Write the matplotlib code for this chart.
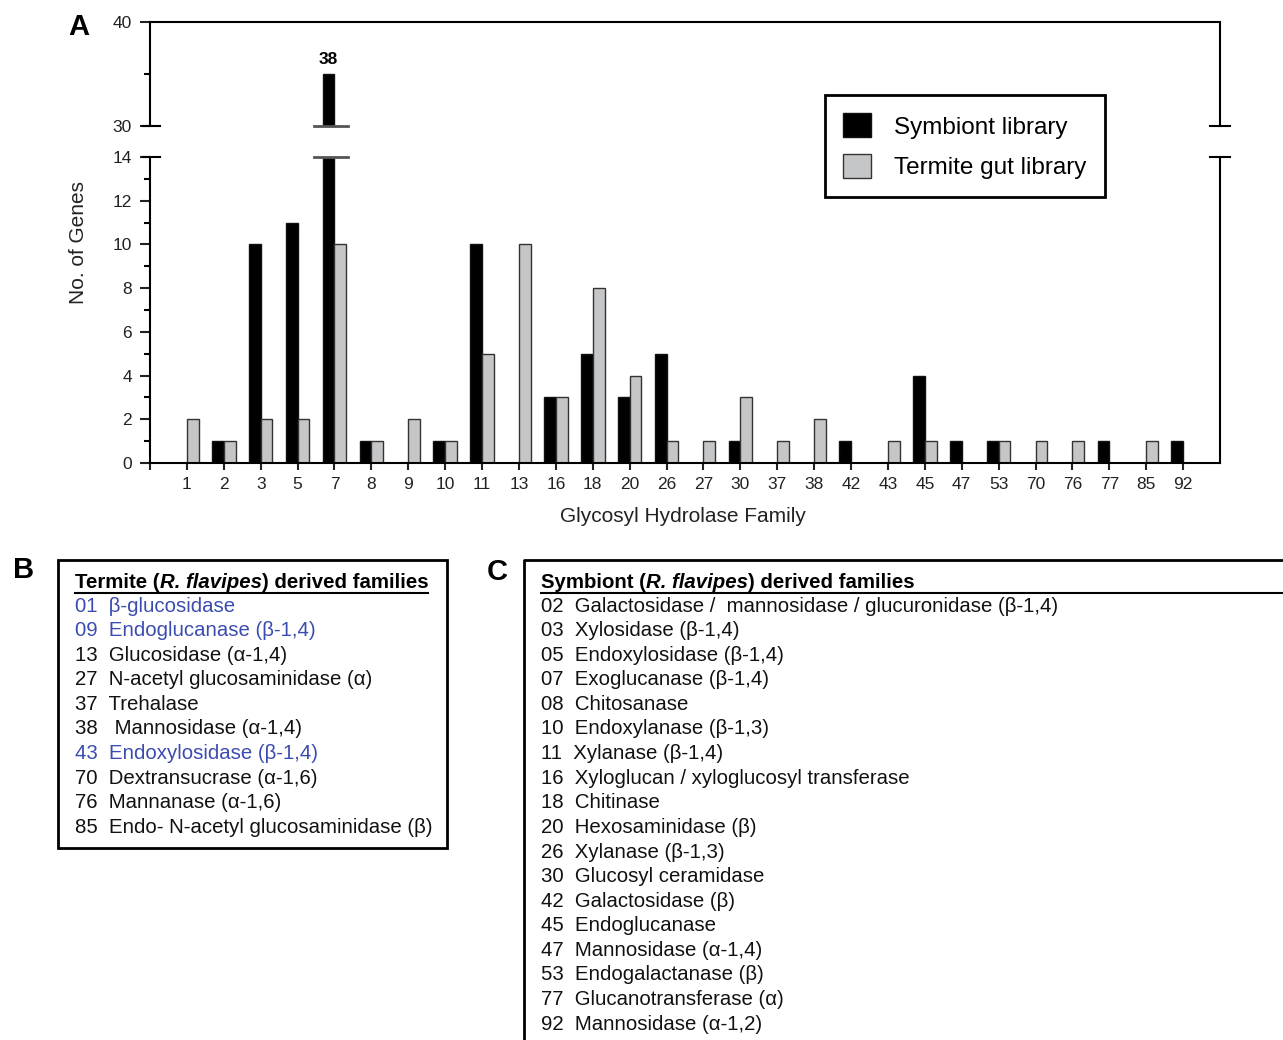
import matplotlib
matplotlib.use("Agg")
import matplotlib.pyplot as plt
from matplotlib.lines import Line2D
from matplotlib.patches import Rectangle
import numpy as np

plt.rcParams['font.family'] = ['Liberation Sans', 'DejaVu Sans']

# ---- data ----
families = ['1', '2', '3', '5', '7', '8', '9', '10', '11', '13', '16', '18', '20', '26',
            '27', '30', '37', '38', '42', '43', '45', '47', '53', '70', '76', '77', '85', '92']
symbiont = [0, 1, 10, 11, 35, 1, 0, 1, 10, 0, 3, 5, 3, 5,
            0, 1, 0, 0, 1, 0, 4, 1, 1, 0, 0, 1, 0, 1]
termite = [2, 1, 2, 2, 10, 1, 2, 1, 5, 10, 3, 8, 4, 1,
           1, 3, 1, 2, 0, 1, 1, 0, 1, 1, 1, 0, 1, 0]
peak_label = '38'

termite_list = [('01  β-glucosidase', True),
                ('09  Endoglucanase (β-1,4)', True),
                ('13  Glucosidase (α-1,4)', False),
                ('27  N-acetyl glucosaminidase (α)', False),
                ('37  Trehalase', False),
                ('38   Mannosidase (α-1,4)', False),
                ('43  Endoxylosidase (β-1,4)', True),
                ('70  Dextransucrase (α-1,6)', False),
                ('76  Mannanase (α-1,6)', False),
                ('85  Endo- N-acetyl glucosaminidase (β)', False)]

symbiont_list = ['02  Galactosidase /  mannosidase / glucuronidase (β-1,4)',
                 '03  Xylosidase (β-1,4)',
                 '05  Endoxylosidase (β-1,4)',
                 '07  Exoglucanase (β-1,4)',
                 '08  Chitosanase',
                 '10  Endoxylanase (β-1,3)',
                 '11  Xylanase (β-1,4)',
                 '16  Xyloglucan / xyloglucosyl transferase',
                 '18  Chitinase',
                 '20  Hexosaminidase (β)',
                 '26  Xylanase (β-1,3)',
                 '30  Glucosyl ceramidase',
                 '42  Galactosidase (β)',
                 '45  Endoglucanase',
                 '47  Mannosidase (α-1,4)',
                 '53  Endogalactanase (β)',
                 '77  Glucanotransferase (α)',
                 '92  Mannosidase (α-1,2)']

W, H = 1283, 1040
fig = plt.figure(figsize=(W / 100, H / 100), dpi=100)


def fx(px):
    return px / W


def fy(py):
    return 1 - py / H


ax_lo = fig.add_axes([fx(150), fy(463), fx(1220) - fx(150), fy(157) - fy(463)])
ax_hi = fig.add_axes([fx(150), fy(126), fx(1220) - fx(150), fy(22) - fy(126)])

x = np.arange(len(families))
bw = 0.32
grey = '#c4c6c8'
for ax in (ax_lo, ax_hi):
    ax.bar(x - bw / 2, symbiont, bw, color='black', edgecolor='#111111', lw=1, label='Symbiont library')
    ax.bar(x + bw / 2, termite, bw, color=grey, edgecolor='#333333', lw=1, label='Termite gut library')
    ax.set_xlim(-1, 28)
    ax.tick_params(colors='#222222', labelsize=12.5, width=1.5)
    for s in ax.spines.values():
        s.set_linewidth(1.5)

ax_lo.set_ylim(0, 14)
ax_hi.set_ylim(30, 40)

ax_lo.spines['top'].set_visible(False)
ax_hi.spines['bottom'].set_visible(False)

ax_lo.set_yticks(range(0, 15, 2))
ax_lo.set_yticks(range(1, 14, 2), minor=True)
ax_hi.set_yticks([30, 40])
ax_hi.set_yticks([35], minor=True)
for ax in (ax_lo, ax_hi):
    ax.tick_params(axis='y', which='major', length=7, pad=6)
    ax.tick_params(axis='y', which='minor', length=4, width=1.5)
ax_hi.set_xticks([])

ax_lo.set_xticks(range(-1, 28))
ax_lo.set_xticklabels([''] + families)
ax_lo.tick_params(axis='x', length=5, labelsize=12.5, pad=5)

# break marks
for yy in (126, 157):
    for x0, x1 in ((143, 160), (1210, 1230)):
        fig.add_artist(Line2D([fx(x0), fx(x1)], [fy(yy), fy(yy)], color='black', lw=1.5))
    fig.add_artist(Line2D([fx(314), fx(348)], [fy(yy), fy(yy)], color='#555555', lw=2))

ax_hi.annotate(peak_label, (4 - bw / 2, 35), xytext=(0, 5), textcoords='offset points',
               ha='center', va='bottom', fontsize=12.5, fontweight='bold')

fig.text(fx(78), fy(242), 'No. of Genes', rotation=90, ha='center', va='center',
         fontsize=15, color='#222222')
fig.text(fx(683), fy(516), 'Glycosyl Hydrolase Family', ha='center', va='center',
         fontsize=15, color='#222222')

handles, labels = ax_lo.get_legend_handles_labels()
leg = fig.legend(handles, labels, loc='upper left', bbox_to_anchor=(fx(825), fy(95)),
                 fontsize=17.5, frameon=True, fancybox=False, edgecolor='black', framealpha=1,
                 handlelength=1.15, handleheight=1.15, handletextpad=0.95, labelspacing=0.62,
                 borderpad=0.75, borderaxespad=0)
leg.get_frame().set_linewidth(2)

# panel letters
fig.text(fx(79), fy(27), 'A', ha='center', va='center', fontsize=21, fontweight='bold')
fig.text(fx(24), fy(570), 'B', ha='center', va='center', fontsize=21, fontweight='bold')
fig.text(fx(497), fy(572), 'C', ha='center', va='center', fontsize=21, fontweight='bold')

renderer = fig.canvas.get_renderer()


def runs(x0, y0, parts, size, underline_to=None):
    xx = x0
    for txt, style in parts:
        t = fig.text(fx(xx), fy(y0), txt, ha='left', va='center', fontsize=size,
                     fontweight='bold', fontstyle=style)
        xx += t.get_window_extent(renderer).width
    end = underline_to if underline_to else xx
    fig.add_artist(Line2D([fx(x0), fx(end)], [fy(y0 + 11), fy(y0 + 11)], color='black', lw=1.5))


txt_size = 14.7

# panel B
fig.add_artist(Rectangle((fx(58), fy(848)), fx(447) - fx(58), fy(560) - fy(848),
                         transform=fig.transFigure, fill=False, lw=2, ec='black'))
runs(75, 582, [('Termite (', 'normal'), ('R. flavipes', 'italic'), (') derived families', 'normal')],
     txt_size)
for i, (line, blue) in enumerate(termite_list):
    fig.text(fx(75), fy(606 + i * 24.6), line, ha='left', va='center', fontsize=txt_size,
             color='#3b4cb0' if blue else '#111111')

# panel C
fig.add_artist(Line2D([fx(524), fx(524), fx(1290)], [fy(1045), fy(560), fy(560)],
                      color='black', lw=2))
runs(541, 582, [('Symbiont (', 'normal'), ('R. flavipes', 'italic'), (') derived families', 'normal')],
     txt_size, underline_to=1283)
for i, line in enumerate(symbiont_list):
    fig.text(fx(541), fy(606 + i * 24.6), line, ha='left', va='center',
             fontsize=txt_size, color='#111111')

fig.savefig('out.png', dpi=100)
